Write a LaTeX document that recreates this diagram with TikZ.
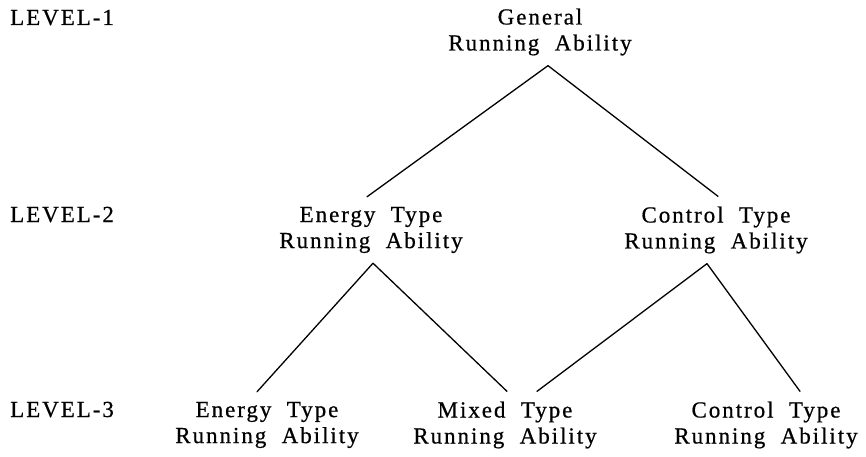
\documentclass[tikz,border=0pt]{standalone}
\usepackage{fontspec}
\setmainfont{Liberation Serif}[LetterSpace=8.5, WordSpace=2, FakeBold=0.6]
\begin{document}
\begin{tikzpicture}[x=1pt, y=1pt, line join=round, line cap=round]

	\tikzset{ability/.style={align=center, inner xsep=0pt, inner ysep=10pt, font=\fontsize{23}{26}\selectfont},
		level label/.style={anchor=base west, inner sep=0pt, font=\fontsize{23}{26}\selectfont},
		branch/.style={line width=1.3pt}}

	\useasboundingbox (0,0) rectangle (866,456);
	\node[level label] (lev1) at (10,431) {LEVEL-1};
	\node[level label] (lev2) at (10,234) {LEVEL-2};
	\node[level label] (lev3) at (10,39) {LEVEL-3};
	\node[ability] (gen) at (540,424) {General\\Running Ability};
	\node[ability] (ety) at (371,226) {Energy Type\\Running Ability};
	\node[ability] (ctl) at (716,226) {Control Type\\Running Ability};
	\node[ability] (ety3) at (267,31) {Energy Type\\Running Ability};
	\node[ability] (mix) at (505,31) {Mixed Type\\Running Ability};
	\node[ability] (ctl3) at (766,31) {Control Type\\Running Ability};
	\draw[branch] ([xshift=-4pt]ety.north)--([xshift=8pt]gen.south)--([xshift=2pt]ctl.north);
	\draw[branch] ([xshift=-10pt]ety3.north)--([xshift=2pt]ety.south)--([xshift=2pt]mix.north);
	\draw[branch] ([xshift=32pt]mix.north)--([xshift=-9pt]ctl.south)--([xshift=34pt]ctl3.north);
\end{tikzpicture}
\end{document}
